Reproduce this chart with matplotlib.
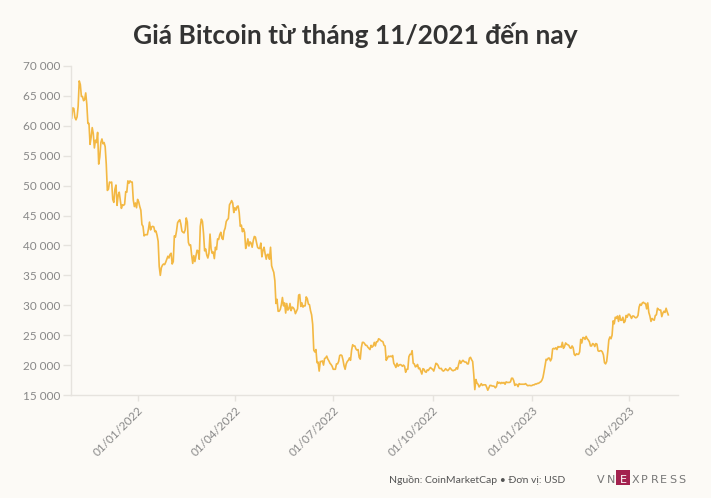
import numpy as np
import pandas as pd
import matplotlib
matplotlib.use("Agg")
import matplotlib.pyplot as plt
from matplotlib.ticker import FuncFormatter
from matplotlib.patches import Rectangle

# Daily BTC price (thousand USD)
nov21 = [61.3, 63.0, 62.9, 61.4, 61.0, 61.5, 63.3, 67.5, 66.9, 64.9, 64.9, 64.2, 64.4, 65.5, 63.6,
         60.4, 60.4, 56.9, 58.1, 59.7, 58.7, 56.3, 57.6, 57.2, 58.9, 53.6, 54.8, 57.2, 57.8, 57.0]
dec21 = [57.2, 56.5, 53.6, 49.2, 49.4, 50.6, 50.5, 50.6, 47.7, 47.2, 49.4, 50.1, 46.7, 48.4, 48.9,
         47.6, 46.2, 46.8, 46.7, 46.9, 49.0, 48.9, 50.8, 50.4, 50.8, 50.6, 50.6, 47.6, 46.5, 47.1, 46.3]
jan22 = [47.7, 47.3, 46.5, 45.9, 43.5, 43.2, 41.6, 41.8, 41.8, 41.8, 42.7, 43.9, 42.6, 43.1, 43.2,
         43.1, 42.3, 42.4, 41.7, 40.7, 36.5, 35.0, 36.3, 36.7, 36.9, 36.8, 37.2, 37.7, 38.2, 37.9, 38.5]
feb22 = [38.7, 36.9, 37.3, 41.6, 41.4, 42.4, 43.8, 44.1, 44.3, 43.6, 42.4, 42.2, 42.1, 42.6, 44.6,
         43.9, 40.5, 40.0, 40.1, 38.4, 37.0, 38.3, 37.3, 38.3, 39.2, 39.1, 37.7, 43.2]
mar22 = [44.4, 44.0, 42.0, 39.1, 39.4, 38.4, 37.9, 38.7, 41.9, 39.4, 38.7, 38.9, 37.8, 39.7, 39.3,
         41.1, 41.0, 41.8, 42.2, 41.2, 41.0, 42.4, 42.9, 44.0, 44.3, 44.5, 46.8, 47.1, 47.5, 47.1, 45.5]
apr22 = [46.3, 45.9, 46.5, 46.6, 45.5, 43.2, 43.4, 42.3, 42.8, 42.2, 39.5, 40.1, 41.1, 39.9, 40.6,
         40.4, 39.7, 40.8, 41.5, 41.4, 40.5, 39.7, 39.5, 39.5, 40.4, 38.1, 39.2, 39.7, 38.6, 37.7]
may22 = [38.5, 38.5, 37.7, 39.7, 36.6, 36.0, 35.5, 34.1, 30.3, 31.0, 29.0, 29.0, 29.3, 30.1, 31.3,
         29.9, 30.4, 28.7, 30.3, 29.2, 29.4, 30.3, 29.1, 29.7, 29.6, 29.3, 28.6, 29.0, 29.4, 31.7, 31.8]
jun22 = [29.8, 30.4, 29.7, 29.9, 29.9, 31.4, 31.1, 30.2, 30.1, 29.1, 28.4, 26.8, 22.5, 22.2, 22.6,
         20.4, 20.5, 19.0, 20.6, 20.6, 20.7, 20.0, 21.1, 21.2, 21.5, 21.0, 20.7, 20.3, 20.1, 19.8]
jul22 = [19.3, 19.3, 19.3, 20.2, 20.2, 20.6, 21.6, 21.7, 21.6, 20.9, 19.9, 19.3, 20.2, 20.6, 20.8,
         21.2, 20.8, 22.5, 23.4, 23.2, 23.2, 22.7, 22.5, 22.6, 21.3, 21.0, 22.9, 23.8, 23.8, 23.6, 23.3]
aug22 = [23.3, 23.0, 22.8, 22.6, 23.3, 23.0, 23.2, 23.8, 23.2, 23.9, 23.9, 24.4, 24.3, 24.1, 24.0,
         23.9, 23.3, 23.2, 20.8, 21.1, 21.5, 21.4, 21.5, 21.4, 21.6, 20.3, 20.0, 19.6, 20.3, 19.8, 20.0]
sep22 = [20.1, 20.0, 19.8, 20.0, 19.8, 18.8, 19.3, 19.3, 21.4, 21.8, 21.8, 22.4, 20.3, 20.2, 19.7,
         19.8, 20.1, 19.4, 19.5, 19.0, 18.5, 19.4, 19.3, 18.9, 18.8, 19.2, 19.1, 19.4, 19.6, 19.4]
oct22 = [19.3, 19.0, 19.6, 20.3, 20.2, 19.95, 19.5, 19.4, 19.45, 19.1, 19.0, 19.15, 19.4, 19.2, 19.07,
         19.27, 19.55, 19.33, 19.13, 19.05, 19.17, 19.2, 19.57, 19.33, 20.1, 20.77, 20.3, 20.6, 20.8, 20.6, 20.5]
nov22 = [20.5, 20.2, 20.2, 21.15, 21.3, 20.9, 20.6, 18.5, 15.9, 17.6, 17.0, 16.8, 16.35, 16.6, 16.9,
         16.6, 16.7, 16.7, 16.7, 16.3, 15.8, 16.2, 16.6, 16.6, 16.5, 16.5, 16.45, 16.2, 16.4, 17.2]
dec22 = [16.97, 17.1, 16.9, 17.1, 16.97, 17.1, 16.8, 17.2, 17.1, 17.1, 17.1, 17.2, 17.8, 17.8, 17.4,
         16.6, 16.8, 16.75, 16.4, 16.9, 16.8, 16.8, 16.8, 16.8, 16.8, 16.9, 16.7, 16.55, 16.6, 16.6, 16.55]
jan23 = [16.6, 16.7, 16.7, 16.85, 16.83, 16.95, 16.95, 17.1, 17.2, 17.45, 17.9, 18.85, 19.9, 20.98, 20.88,
         21.17, 21.16, 20.7, 21.07, 22.7, 22.8, 22.7, 22.9, 22.6, 23.1, 23.0, 23.1, 23.0, 23.8, 22.8, 23.1]
feb23 = [23.7, 23.5, 23.4, 23.3, 22.9, 22.8, 23.2, 22.9, 21.8, 21.6, 21.9, 21.8, 21.8, 22.2, 24.3,
         23.7, 24.6, 24.6, 24.3, 24.8, 24.4, 24.2, 23.9, 23.2, 23.2, 23.6, 23.5, 23.1]
mar23 = [23.6, 23.5, 22.4, 22.3, 22.4, 22.4, 22.2, 21.7, 20.4, 20.2, 20.6, 22.2, 24.2, 24.7, 24.4,
         25.0, 27.4, 26.9, 28.0, 27.8, 28.2, 27.3, 28.3, 27.5, 27.5, 28.0, 27.1, 27.3, 28.3, 28.0, 28.5]
apr23 = [28.5, 28.2, 27.8, 28.2, 28.2, 28.0, 27.9, 28.0, 28.3, 29.7, 30.2, 30.0, 30.4, 30.5, 30.3,
         30.3, 29.4, 30.4, 28.8, 28.2, 27.3, 27.8, 27.6, 27.5, 28.3, 28.4, 29.5, 29.3, 29.2, 29.2]
may23 = [28.1, 28.7, 29.0, 28.8, 29.5, 28.9, 28.4]

start_date = "2021-11-01"
tick_dates = ["2022-01-01", "2022-04-01", "2022-07-01", "2022-10-01", "2023-01-01", "2023-04-01"]
tick_labels = ["01/01/2022", "01/04/2022", "01/07/2022", "01/10/2022", "01/01/2023", "01/04/2023"]
y_ticks = [15000, 20000, 25000, 30000, 35000, 40000, 45000, 50000, 55000, 60000, 65000, 70000]

title = "Giá Bitcoin từ tháng 11/2021 đến nay"
source = "Nguồn: CoinMarketCap • Đơn vị: USD"

months = [nov21, dec21, jan22, feb22, mar22, apr22, may22, jun22, jul22, aug22, sep22, oct22,
          nov22, dec22, jan23, feb23, mar23, apr23, may23]
prices = np.concatenate([np.array(m) for m in months]) * 1000
dates = pd.date_range(start_date, periods=len(prices), freq="D")

BG = "#FCFAF6"
LINE = "#F3B843"
GRAY = "#888888"
AXC = "#E6E3DE"
FONTS = ["Lato", "Noto Sans", "DejaVu Sans"]
plt.rcParams["font.family"] = FONTS

fig = plt.figure(figsize=(7.11, 4.98), dpi=100, facecolor=BG)
ax = fig.add_axes([71 / 711, 1 - 395 / 498, (678 - 71) / 711, (395 - 66) / 498])
ax.set_facecolor(BG)

ax.plot(dates, prices, color=LINE, lw=1.2, solid_joinstyle="round")

ax.set_ylim(15000, 70000)
ax.set_xlim(pd.Timestamp("2021-10-31 09:00"), pd.Timestamp("2023-05-16"))
ax.set_yticks(y_ticks)
ax.yaxis.set_major_formatter(FuncFormatter(lambda v, p: f"{int(v):,}".replace(",", " ")))
ax.set_xticks([pd.Timestamp(d) for d in tick_dates])
ax.set_xticklabels(tick_labels, rotation=45, ha="right", rotation_mode="anchor")

for s in ["top", "right"]:
    ax.spines[s].set_visible(False)
for s in ["left", "bottom"]:
    ax.spines[s].set_color(AXC)
    ax.spines[s].set_linewidth(1.0)
ax.tick_params(axis="y", length=6, width=1, color=AXC, labelcolor=GRAY, labelsize=8.5, pad=2)
ax.tick_params(axis="x", length=4, width=1, color=AXC, labelcolor=GRAY, labelsize=8.5, pad=3)

fig.text(0.5, 1 - 44 / 498, title, ha="center", va="baseline", fontsize=19,
         fontweight="bold", color="#333333", family=FONTS)

fig.text(565 / 711, 1 - 483 / 498, source, ha="right", va="baseline", fontsize=7.5,
         color="#555555", family=FONTS)

# VnExpress logo
for i, ch in enumerate("VN"):
    fig.text((597 + i * 9.5) / 711, 1 - 483 / 498, ch, ha="left", va="baseline", fontsize=8,
             color="#777777", family=["DejaVu Sans"])
fig.patches.append(Rectangle((616 / 711, 1 - 485 / 498), 14 / 711, 15 / 498,
                             transform=fig.transFigure, facecolor="#A3224F",
                             edgecolor="none", figure=fig))
fig.text(623 / 711, 1 - 483 / 498, "E", ha="center", va="baseline", fontsize=8,
         color="white", family=["DejaVu Sans"])
for i, ch in enumerate("XPRESS"):
    fig.text((632 + i * 9.2) / 711, 1 - 483 / 498, ch, ha="left", va="baseline", fontsize=8,
             color="#777777", family=["DejaVu Sans"])

fig.savefig("out.png", dpi=100, facecolor=BG)
